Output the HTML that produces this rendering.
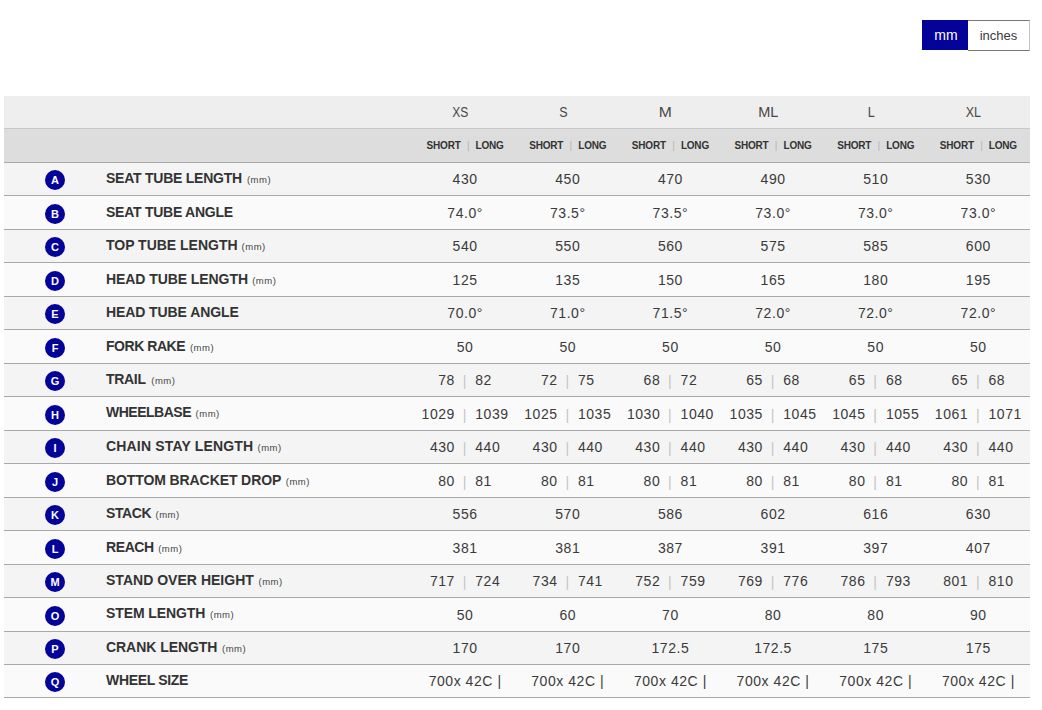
<!DOCTYPE html><html><head><meta charset="utf-8"><style>
*{margin:0;padding:0;box-sizing:border-box}
html,body{width:1042px;height:710px;background:#fff;overflow:hidden;font-family:"Liberation Sans",sans-serif;color:#333}
.a{position:absolute;line-height:20px;height:20px;white-space:pre}
.bx{position:absolute}
.mm{left:922px;top:20px;width:46px;height:30px;background:#030399}
.in{left:968px;top:20px;width:62px;height:31px;background:#fff;border:1px solid #777;border-left:0;border-right-color:#c4c4c4}
.tm{left:923px;width:46px;top:25px;text-align:center;color:#fff;font-size:14px}
.ti{left:968px;width:61px;top:26px;text-align:center;color:#3a3a3a;font-size:13px}
.h1{left:4px;top:96px;width:1026px;height:32px;background:#eee}
.h2{left:4px;top:128px;width:1026px;height:34px;background:#ddd;border-top:1px solid #c8c8c8}
.ln{left:4px;width:1026px;height:1px;background:#a9a9a9}
.rw{left:4px;width:1026px}
.sz{font-size:14.5px;color:#484848;text-align:center;width:102.65px;top:102px}
.sl{font-size:10px;letter-spacing:-0.2px;font-weight:700;color:#333;text-align:center;width:102.65px;top:136px}
.sl i{font-style:normal;color:#b4b4b4;font-weight:400;margin:0 6.3px}
.c{position:absolute;width:20px;height:20px;border-radius:50%;background:#030399;left:45px}
.cl{left:45px;width:20px;text-align:center;color:#fff;font-size:11px;font-weight:700}
.lb{left:106px;font-size:14px;font-weight:700;color:#333}
.mmu{font-size:9.5px;letter-spacing:0.5px;color:#454545}
.v{font-size:14px;text-align:center;width:102.65px;color:#3a3a3a;letter-spacing:0.55px}
.v i{font-style:normal;color:#c4c4c4;margin:0 8.9px 0 7.8px;letter-spacing:0;position:relative;top:1px}
</style></head><body>
<div class="bx mm"></div><div class="bx in"></div><div class="a tm">mm</div><div class="a ti">inches</div>
<div class="bx h1"></div><div class="bx h2"></div>
<div class="bx rw" style="top:163px;height:32px;background:#f4f4f4"></div>
<div class="bx rw" style="top:196px;height:33px;background:#fafafa"></div>
<div class="bx rw" style="top:230px;height:32px;background:#f4f4f4"></div>
<div class="bx rw" style="top:263px;height:33px;background:#fafafa"></div>
<div class="bx rw" style="top:297px;height:32px;background:#f4f4f4"></div>
<div class="bx rw" style="top:330px;height:33px;background:#fafafa"></div>
<div class="bx rw" style="top:364px;height:32px;background:#f4f4f4"></div>
<div class="bx rw" style="top:397px;height:33px;background:#fafafa"></div>
<div class="bx rw" style="top:431px;height:32px;background:#f4f4f4"></div>
<div class="bx rw" style="top:464px;height:33px;background:#fafafa"></div>
<div class="bx rw" style="top:498px;height:32px;background:#f4f4f4"></div>
<div class="bx rw" style="top:531px;height:33px;background:#fafafa"></div>
<div class="bx rw" style="top:565px;height:32px;background:#f4f4f4"></div>
<div class="bx rw" style="top:598px;height:33px;background:#fafafa"></div>
<div class="bx rw" style="top:632px;height:32px;background:#f4f4f4"></div>
<div class="bx rw" style="top:665px;height:32px;background:#fafafa"></div>
<div class="bx ln" style="top:162px"></div>
<div class="bx ln" style="top:195px"></div>
<div class="bx ln" style="top:229px"></div>
<div class="bx ln" style="top:262px"></div>
<div class="bx ln" style="top:296px"></div>
<div class="bx ln" style="top:329px"></div>
<div class="bx ln" style="top:363px"></div>
<div class="bx ln" style="top:396px"></div>
<div class="bx ln" style="top:430px"></div>
<div class="bx ln" style="top:463px"></div>
<div class="bx ln" style="top:497px"></div>
<div class="bx ln" style="top:530px"></div>
<div class="bx ln" style="top:564px"></div>
<div class="bx ln" style="top:597px"></div>
<div class="bx ln" style="top:631px"></div>
<div class="bx ln" style="top:664px"></div>
<div class="bx ln" style="top:697px"></div>
<div class="a sz" style="left:409.10px;transform:scaleX(0.83)">XS</div>
<div class="a sl" style="left:413.80px">SHORT<i>|</i>LONG</div>
<div class="a sz" style="left:511.75px;transform:scaleX(0.86)">S</div>
<div class="a sl" style="left:516.45px">SHORT<i>|</i>LONG</div>
<div class="a sz" style="left:614.40px;transform:scaleX(1.08)">M</div>
<div class="a sl" style="left:619.10px">SHORT<i>|</i>LONG</div>
<div class="a sz" style="left:717.05px;transform:scaleX(1.0)">ML</div>
<div class="a sl" style="left:721.75px">SHORT<i>|</i>LONG</div>
<div class="a sz" style="left:819.70px;transform:scaleX(0.87)">L</div>
<div class="a sl" style="left:824.40px">SHORT<i>|</i>LONG</div>
<div class="a sz" style="left:922.35px;transform:scaleX(0.86)">XL</div>
<div class="a sl" style="left:927.05px">SHORT<i>|</i>LONG</div>
<div class="c" style="top:169.6px"></div>
<div class="a cl" style="top:170px">A</div>
<div class="a lb" style="top:168px;letter-spacing:-0.240px">SEAT TUBE LENGTH</div>
<div class="a mmu" style="left:246.9px;top:170px">(mm)</div>
<div class="a v" style="left:413.80px;top:169px">430</div>
<div class="a v" style="left:516.45px;top:169px">450</div>
<div class="a v" style="left:619.10px;top:169px">470</div>
<div class="a v" style="left:721.75px;top:169px">490</div>
<div class="a v" style="left:824.40px;top:169px">510</div>
<div class="a v" style="left:927.05px;top:169px">530</div>
<div class="c" style="top:203.6px"></div>
<div class="a cl" style="top:204px">B</div>
<div class="a lb" style="top:202px;letter-spacing:-0.257px">SEAT TUBE ANGLE</div>
<div class="a v" style="left:413.80px;top:203px">74.0°</div>
<div class="a v" style="left:516.45px;top:203px">73.5°</div>
<div class="a v" style="left:619.10px;top:203px">73.5°</div>
<div class="a v" style="left:721.75px;top:203px">73.0°</div>
<div class="a v" style="left:824.40px;top:203px">73.0°</div>
<div class="a v" style="left:927.05px;top:203px">73.0°</div>
<div class="c" style="top:236.6px"></div>
<div class="a cl" style="top:237px">C</div>
<div class="a lb" style="top:235px;letter-spacing:-0.013px">TOP TUBE LENGTH</div>
<div class="a mmu" style="left:241.6px;top:237px">(mm)</div>
<div class="a v" style="left:413.80px;top:236px">540</div>
<div class="a v" style="left:516.45px;top:236px">550</div>
<div class="a v" style="left:619.10px;top:236px">560</div>
<div class="a v" style="left:721.75px;top:236px">575</div>
<div class="a v" style="left:824.40px;top:236px">585</div>
<div class="a v" style="left:927.05px;top:236px">600</div>
<div class="c" style="top:270.6px"></div>
<div class="a cl" style="top:271px">D</div>
<div class="a lb" style="top:269px;letter-spacing:-0.072px">HEAD TUBE LENGTH</div>
<div class="a mmu" style="left:252.2px;top:271px">(mm)</div>
<div class="a v" style="left:413.80px;top:270px">125</div>
<div class="a v" style="left:516.45px;top:270px">135</div>
<div class="a v" style="left:619.10px;top:270px">150</div>
<div class="a v" style="left:721.75px;top:270px">165</div>
<div class="a v" style="left:824.40px;top:270px">180</div>
<div class="a v" style="left:927.05px;top:270px">195</div>
<div class="c" style="top:303.6px"></div>
<div class="a cl" style="top:304px">E</div>
<div class="a lb" style="top:302px;letter-spacing:-0.090px">HEAD TUBE ANGLE</div>
<div class="a v" style="left:413.80px;top:303px">70.0°</div>
<div class="a v" style="left:516.45px;top:303px">71.0°</div>
<div class="a v" style="left:619.10px;top:303px">71.5°</div>
<div class="a v" style="left:721.75px;top:303px">72.0°</div>
<div class="a v" style="left:824.40px;top:303px">72.0°</div>
<div class="a v" style="left:927.05px;top:303px">72.0°</div>
<div class="c" style="top:337.6px"></div>
<div class="a cl" style="top:338px">F</div>
<div class="a lb" style="top:336px;letter-spacing:-0.450px">FORK RAKE</div>
<div class="a mmu" style="left:189.9px;top:338px">(mm)</div>
<div class="a v" style="left:413.80px;top:337px">50</div>
<div class="a v" style="left:516.45px;top:337px">50</div>
<div class="a v" style="left:619.10px;top:337px">50</div>
<div class="a v" style="left:721.75px;top:337px">50</div>
<div class="a v" style="left:824.40px;top:337px">50</div>
<div class="a v" style="left:927.05px;top:337px">50</div>
<div class="c" style="top:370.6px"></div>
<div class="a cl" style="top:371px">G</div>
<div class="a lb" style="top:369px;letter-spacing:-0.315px">TRAIL</div>
<div class="a mmu" style="left:151.3px;top:371px">(mm)</div>
<div class="a v" style="left:413.80px;top:370px">78<i>|</i>82</div>
<div class="a v" style="left:516.45px;top:370px">72<i>|</i>75</div>
<div class="a v" style="left:619.10px;top:370px">68<i>|</i>72</div>
<div class="a v" style="left:721.75px;top:370px">65<i>|</i>68</div>
<div class="a v" style="left:824.40px;top:370px">65<i>|</i>68</div>
<div class="a v" style="left:927.05px;top:370px">65<i>|</i>68</div>
<div class="c" style="top:404.6px"></div>
<div class="a cl" style="top:405px">H</div>
<div class="a lb" style="top:402px;letter-spacing:-0.495px">WHEELBASE</div>
<div class="a mmu" style="left:195.6px;top:404px">(mm)</div>
<div class="a v" style="left:413.80px;top:404px">1029<i>|</i>1039</div>
<div class="a v" style="left:516.45px;top:404px">1025<i>|</i>1035</div>
<div class="a v" style="left:619.10px;top:404px">1030<i>|</i>1040</div>
<div class="a v" style="left:721.75px;top:404px">1035<i>|</i>1045</div>
<div class="a v" style="left:824.40px;top:404px">1045<i>|</i>1055</div>
<div class="a v" style="left:927.05px;top:404px">1061<i>|</i>1071</div>
<div class="c" style="top:437.6px"></div>
<div class="a cl" style="top:438px">I</div>
<div class="a lb" style="top:436px;letter-spacing:0.169px">CHAIN STAY LENGTH</div>
<div class="a mmu" style="left:257.5px;top:438px">(mm)</div>
<div class="a v" style="left:413.80px;top:437px">430<i>|</i>440</div>
<div class="a v" style="left:516.45px;top:437px">430<i>|</i>440</div>
<div class="a v" style="left:619.10px;top:437px">430<i>|</i>440</div>
<div class="a v" style="left:721.75px;top:437px">430<i>|</i>440</div>
<div class="a v" style="left:824.40px;top:437px">430<i>|</i>440</div>
<div class="a v" style="left:927.05px;top:437px">430<i>|</i>440</div>
<div class="c" style="top:471.6px"></div>
<div class="a cl" style="top:472px">J</div>
<div class="a lb" style="top:470px;letter-spacing:-0.100px">BOTTOM BRACKET DROP</div>
<div class="a mmu" style="left:285.8px;top:472px">(mm)</div>
<div class="a v" style="left:413.80px;top:471px">80<i>|</i>81</div>
<div class="a v" style="left:516.45px;top:471px">80<i>|</i>81</div>
<div class="a v" style="left:619.10px;top:471px">80<i>|</i>81</div>
<div class="a v" style="left:721.75px;top:471px">80<i>|</i>81</div>
<div class="a v" style="left:824.40px;top:471px">80<i>|</i>81</div>
<div class="a v" style="left:927.05px;top:471px">80<i>|</i>81</div>
<div class="c" style="top:504.6px"></div>
<div class="a cl" style="top:505px">K</div>
<div class="a lb" style="top:503px;letter-spacing:-0.405px">STACK</div>
<div class="a mmu" style="left:155.5px;top:505px">(mm)</div>
<div class="a v" style="left:413.80px;top:504px">556</div>
<div class="a v" style="left:516.45px;top:504px">570</div>
<div class="a v" style="left:619.10px;top:504px">586</div>
<div class="a v" style="left:721.75px;top:504px">602</div>
<div class="a v" style="left:824.40px;top:504px">616</div>
<div class="a v" style="left:927.05px;top:504px">630</div>
<div class="c" style="top:538.6px"></div>
<div class="a cl" style="top:539px">L</div>
<div class="a lb" style="top:537px;letter-spacing:-0.405px">REACH</div>
<div class="a mmu" style="left:158.2px;top:539px">(mm)</div>
<div class="a v" style="left:413.80px;top:538px">381</div>
<div class="a v" style="left:516.45px;top:538px">381</div>
<div class="a v" style="left:619.10px;top:538px">387</div>
<div class="a v" style="left:721.75px;top:538px">391</div>
<div class="a v" style="left:824.40px;top:538px">397</div>
<div class="a v" style="left:927.05px;top:538px">407</div>
<div class="c" style="top:571.6px"></div>
<div class="a cl" style="top:572px">M</div>
<div class="a lb" style="top:570px;letter-spacing:0.022px">STAND OVER HEIGHT</div>
<div class="a mmu" style="left:258.5px;top:572px">(mm)</div>
<div class="a v" style="left:413.80px;top:571px">717<i>|</i>724</div>
<div class="a v" style="left:516.45px;top:571px">734<i>|</i>741</div>
<div class="a v" style="left:619.10px;top:571px">752<i>|</i>759</div>
<div class="a v" style="left:721.75px;top:571px">769<i>|</i>776</div>
<div class="a v" style="left:824.40px;top:571px">786<i>|</i>793</div>
<div class="a v" style="left:927.05px;top:571px">801<i>|</i>810</div>
<div class="c" style="top:605.6px"></div>
<div class="a cl" style="top:606px">O</div>
<div class="a lb" style="top:603px;letter-spacing:-0.090px">STEM LENGTH</div>
<div class="a mmu" style="left:210.0px;top:605px">(mm)</div>
<div class="a v" style="left:413.80px;top:605px">50</div>
<div class="a v" style="left:516.45px;top:605px">60</div>
<div class="a v" style="left:619.10px;top:605px">70</div>
<div class="a v" style="left:721.75px;top:605px">80</div>
<div class="a v" style="left:824.40px;top:605px">80</div>
<div class="a v" style="left:927.05px;top:605px">90</div>
<div class="c" style="top:638.6px"></div>
<div class="a cl" style="top:639px">P</div>
<div class="a lb" style="top:637px;letter-spacing:-0.049px">CRANK LENGTH</div>
<div class="a mmu" style="left:222.0px;top:639px">(mm)</div>
<div class="a v" style="left:413.80px;top:638px">170</div>
<div class="a v" style="left:516.45px;top:638px">170</div>
<div class="a v" style="left:619.10px;top:638px">172.5</div>
<div class="a v" style="left:721.75px;top:638px">172.5</div>
<div class="a v" style="left:824.40px;top:638px">175</div>
<div class="a v" style="left:927.05px;top:638px">175</div>
<div class="c" style="top:671.6px"></div>
<div class="a cl" style="top:672px">Q</div>
<div class="a lb" style="top:670px;letter-spacing:-0.320px">WHEEL SIZE</div>
<div class="a v" style="left:413.80px;top:671px">700x 42C |</div>
<div class="a v" style="left:516.45px;top:671px">700x 42C |</div>
<div class="a v" style="left:619.10px;top:671px">700x 42C |</div>
<div class="a v" style="left:721.75px;top:671px">700x 42C |</div>
<div class="a v" style="left:824.40px;top:671px">700x 42C |</div>
<div class="a v" style="left:927.05px;top:671px">700x 42C |</div>
</body></html>
